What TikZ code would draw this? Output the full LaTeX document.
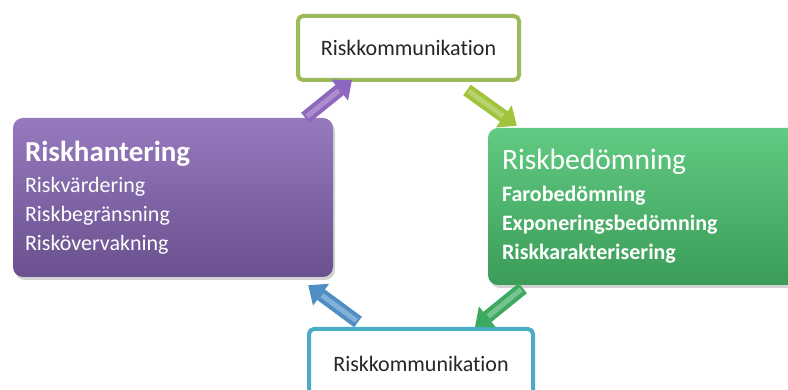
\documentclass[tikz,border=0pt]{standalone}
\usepackage{fontspec}
\setmainfont{Carlito}[Ligatures=NoCommon]
\usepackage{tikz}
\usetikzlibrary{arrows.meta, positioning, shadows}
\definecolor{lila}{RGB}{142,104,190}
\definecolor{lilaHell}{RGB}{150,122,190}
\definecolor{lilaDunkel}{RGB}{106,80,142}
\definecolor{gruen}{RGB}{62,170,96}
\definecolor{gruenHell}{RGB}{98,202,130}
\definecolor{gruenDunkel}{RGB}{58,156,88}
\definecolor{olive}{RGB}{155,187,89}
\definecolor{gelbgruen}{RGB}{160,196,60}
\definecolor{cyan}{RGB}{75,172,198}
\definecolor{blau}{RGB}{78,142,196}
\definecolor{textgrau}{RGB}{38,38,38}

\begin{document}
\begin{tikzpicture}[x=1pt,y=1pt,>={Triangle[width=26pt,length=16pt]},
        risk box/.style={rounded corners=10pt,align=left,text=white,
          font=\fontsize{22}{29}\selectfont,
          drop shadow={opacity=0.35,shadow xshift=2pt,shadow yshift=-3pt}},
        komm node/.style={draw,line width=4pt,fill=white,rounded corners=5pt,
          text=textgrau,font=\fontsize{22}{26}\selectfont},
        block arrow/.style={->,line width=13pt},
        glanz/.style={line width=5pt,shorten >=17pt,shorten <=2pt}]
    \useasboundingbox (0,0) rectangle (788,390);
    \clip (0,0) rectangle (788,390);
    \node[komm node, draw=olive, minimum width=221pt, minimum height=64pt] (kom1) at (408.5,342) {Riskkommunikation};
    \node[komm node, draw=cyan, minimum width=224pt, minimum height=69pt] (kom2) at (421,26.5) {Riskkommunikation};
    \node[risk box, top color=lilaHell, bottom color=lilaDunkel, minimum width=320pt,
      minimum height=159pt, inner xsep=12pt, text width=296pt] (hant) at (173,192.5)
      {{\fontsize{29}{29}\selectfont\bfseries Riskhantering}\\[2pt]
       Riskvärdering\\ Riskbegränsning\\ Riskövervakning};
    \node[risk box, top color=gruenHell, bottom color=gruenDunkel, minimum width=322pt,
      minimum height=157pt, inner xsep=14pt, text width=294pt] (bed) at (649,183.5)
      {{\fontsize{29.5}{29}\selectfont Riskbedömning}\\[3pt]
       \bfseries Farobedömning\\ Exponeringsbedömning\\ Riskkarakterisering};
    % pilar mellan rutorna
    \draw[block arrow, lila] ([xshift=-28pt]hant.north east) -- ([xshift=56pt,yshift=2pt]kom1.south west);
    \draw[glanz, lila!75!white] ([xshift=-28pt]hant.north east) -- ([xshift=56pt,yshift=2pt]kom1.south west);
    \draw[block arrow, gelbgruen] ([xshift=-54pt,yshift=-8pt]kom1.south east) -- ([xshift=29pt,yshift=2pt]bed.north west);
    \draw[glanz, gelbgruen!75!white] ([xshift=-54pt,yshift=-8pt]kom1.south east) -- ([xshift=29pt,yshift=2pt]bed.north west);
    \draw[block arrow, gruen] ([xshift=35pt,yshift=-3pt]bed.south west) -- ([xshift=-60pt,yshift=0pt]kom2.north east);
    \draw[glanz, gruen!70!white] ([xshift=35pt,yshift=-3pt]bed.south west) -- ([xshift=-60pt,yshift=0pt]kom2.north east);
    \draw[block arrow, blau] ([xshift=51pt,yshift=5pt]kom2.north west) -- ([xshift=-25pt,yshift=-8pt]hant.south east);
    \draw[glanz, blau!70!white] ([xshift=51pt,yshift=5pt]kom2.north west) -- ([xshift=-25pt,yshift=-8pt]hant.south east);
\end{tikzpicture}
\end{document}
